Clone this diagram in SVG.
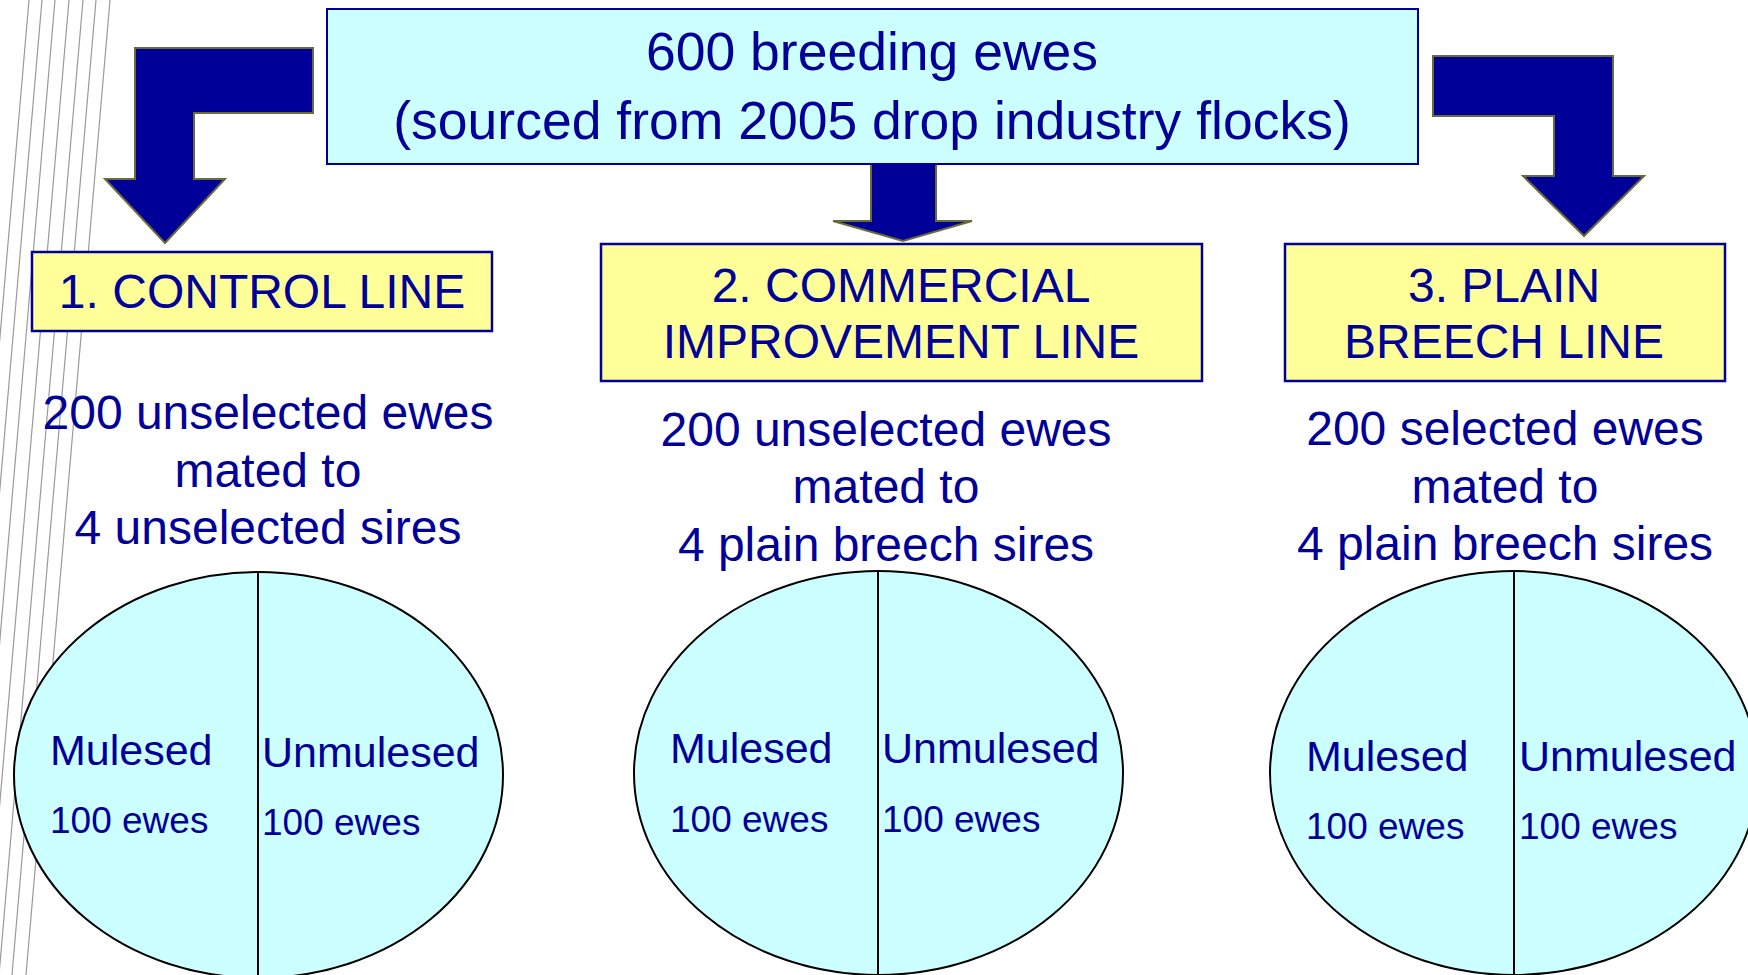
<svg xmlns="http://www.w3.org/2000/svg" width="1748" height="975" viewBox="0 0 1748 975">
<style>
text{font-family:"Liberation Sans",Arial,sans-serif;fill:#000099}
.big{font-size:53.5px}
.lab{font-size:48px;text-anchor:middle}
.m{font-size:43px}
.n{font-size:37px}
.deco{stroke:#9a9a9a;stroke-width:1.2;fill:none}
.arrow{fill:#000099;stroke:#6b6b3a;stroke-width:2;stroke-linejoin:miter}
.cyan{fill:#CCFFFF;stroke:#000099;stroke-width:2}
.yel{fill:#FFFF99;stroke:#000099;stroke-width:2.5}
.ell{fill:#CCFFFF;stroke:#000;stroke-width:2}
.div{stroke:#000;stroke-width:2}
</style>
<rect width="1748" height="975" fill="#fff"/>
<g id="decor">
<line class="deco" x1="29" y1="0" x2="-55" y2="975"/>
<line class="deco" x1="42" y1="0" x2="-42" y2="975"/>
<line class="deco" x1="55" y1="0" x2="-29" y2="975"/>
<line class="deco" x1="69" y1="0" x2="-15" y2="975"/>
<line class="deco" x1="83" y1="0" x2="-1" y2="975"/>
<line class="deco" x1="96" y1="0" x2="12" y2="975"/>
<line class="deco" x1="110" y1="0" x2="26" y2="975"/>
</g>
<g id="connectors">
<polygon class="arrow" points="313,48 135,48 135,179 105,179 165,243 225,179 194,179 194,113 313,113"/>
<polygon class="arrow" points="871,163 936,163 936,221 972,221 903,241 833,221 871,221"/>
<polygon class="arrow" points="1433,56 1613,56 1613,176 1644,176 1584,236 1523,176 1554,176 1554,116 1433,116"/>
</g>
<g id="source">
<rect class="cyan" x="327" y="9" width="1091" height="155"/>
<text class="big" x="872" y="70" text-anchor="middle">600 breeding ewes</text>
<text class="big" x="872" y="139" text-anchor="middle">(sourced from 2005 drop industry flocks)</text>
</g>
<g id="line1">
<rect class="yel" x="32" y="252" width="460" height="79"/>
<text class="lab" x="262" y="308">1. CONTROL LINE</text>
</g>
<g id="line2">
<rect class="yel" x="601" y="244" width="601" height="137"/>
<text class="lab" x="901" y="302">2. COMMERCIAL</text>
<text class="lab" x="901" y="358">IMPROVEMENT LINE</text>
</g>
<g id="line3">
<rect class="yel" x="1285" y="244" width="440" height="137"/>
<text class="lab" x="1504" y="302">3. PLAIN</text>
<text class="lab" x="1504" y="358">BREECH LINE</text>
</g>
<g id="desc1">
<text class="lab" x="268" y="429">200 unselected ewes</text>
<text class="lab" x="268" y="487">mated to</text>
<text class="lab" x="268" y="544">4 unselected sires</text>
</g>
<g id="desc2">
<text class="lab" x="886" y="446">200 unselected ewes</text>
<text class="lab" x="886" y="503">mated to</text>
<text class="lab" x="886" y="561">4 plain breech sires</text>
</g>
<g id="desc3">
<text class="lab" x="1505" y="445">200 selected ewes</text>
<text class="lab" x="1505" y="503">mated to</text>
<text class="lab" x="1505" y="560">4 plain breech sires</text>
</g>
<g id="group1">
<ellipse class="ell" cx="258.5" cy="775" rx="244.5" ry="203"/>
<line class="div" x1="258" y1="572" x2="258" y2="975"/>
<text class="m" x="50" y="765">Mulesed</text>
<text class="n" x="50" y="833">100 ewes</text>
<text class="m" x="262" y="767">Unmulesed</text>
<text class="n" x="262" y="835">100 ewes</text>
</g>
<g id="group2">
<ellipse class="ell" cx="878.5" cy="773" rx="244.5" ry="202"/>
<line class="div" x1="878" y1="571" x2="878" y2="975"/>
<text class="m" x="670" y="763">Mulesed</text>
<text class="n" x="670" y="832">100 ewes</text>
<text class="m" x="882" y="763">Unmulesed</text>
<text class="n" x="882" y="832">100 ewes</text>
</g>
<g id="group3">
<ellipse class="ell" cx="1514" cy="773" rx="244" ry="202"/>
<line class="div" x1="1514" y1="571" x2="1514" y2="975"/>
<text class="m" x="1306" y="771">Mulesed</text>
<text class="n" x="1306" y="839">100 ewes</text>
<text class="m" x="1519" y="771">Unmulesed</text>
<text class="n" x="1519" y="839">100 ewes</text>
</g>
</svg>
